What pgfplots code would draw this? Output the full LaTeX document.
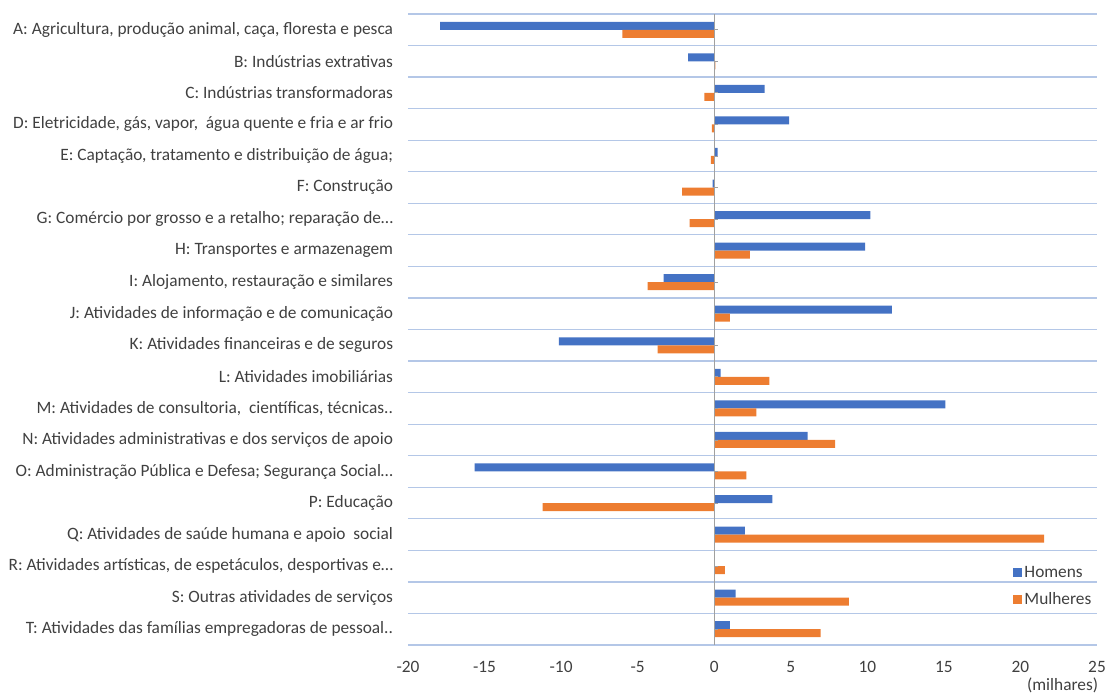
\documentclass[border=0pt]{standalone}
\usepackage{pgfplots}
\pgfplotsset{compat=1.18}
\usepackage{fontspec}
\setmainfont{Carlito}
\definecolor{cblue}{HTML}{4472C4}
\definecolor{corange}{HTML}{ED7D31}
\definecolor{gridc}{HTML}{B4C7E7}
\definecolor{txt}{HTML}{404040}
\definecolor{zline}{HTML}{A0A0A0}
\begin{document}
\begin{tikzpicture}
\begin{axis}[
  scale only axis, width=516.75pt, height=473.25pt,
  xbar, bar width=6pt,
  xmin=-20, xmax=25, xtick={-20,-15,...,25},
  ymin=-0.5, ymax=19.5, y dir=reverse,
  ytick={0,...,19},
  yticklabels={
    {A: Agricultura, produção animal, caça, floresta e pesca},
    {B: Indústrias extrativas},
    {C: Indústrias transformadoras},
    {D: Eletricidade, gás, vapor,\ \ água quente e fria e ar frio},
    {E: Captação, tratamento e distribuição de água;},
    {F: Construção},
    {G: Comércio por grosso e a retalho; reparação de…},
    {H: Transportes e armazenagem},
    {I: Alojamento, restauração e similares},
    {J: Atividades de informação e de comunicação},
    {K: Atividades financeiras e de seguros},
    {L: Atividades imobiliárias},
    {M: Atividades de consultoria,\ \ científicas, técnicas..},
    {N: Atividades administrativas e dos serviços de apoio},
    {O: Administração Pública e Defesa; Segurança Social…},
    {P: Educação},
    {Q: Atividades de saúde humana e apoio\ \ social},
    {R: Atividades artísticas, de espetáculos, desportivas e…},
    {S: Outras atividades de serviços},
    {T: Atividades das famílias empregadoras de pessoal..}},
  minor ytick={-0.5,0.5,...,19.5},
  yminorgrids,
  minor grid style={draw=gridc, line width=0.9pt},
  axis line style={draw=none},
  major tick length=0pt, minor tick length=0pt,
  tick label style={font=\fontsize{13}{15}\selectfont, text=txt},
  /pgf/number format/assume math mode=true,
  yticklabel style={xshift=-7.7pt},
  xticklabel style={yshift=-8.5pt},
  legend style={at={(0.996,0.093)}, anchor=east, draw=none, fill=none,
    font=\fontsize{13}{15}\selectfont, text=txt, row sep=7.5pt, inner sep=0pt,
    nodes={inner xsep=2pt, inner ysep=1pt}},
  legend cell align=left,
]
\addplot[fill=cblue, draw=none, bar shift=3pt,
  legend image code/.code={\fill[cblue] (0pt,-3.4pt) rectangle (6.8pt,3.4pt);}]
  coordinates {
  (-17.9,0) (-1.7,1) (3.3,2) (4.9,3) (0.22,4) (-0.1,5) (10.2,6) (9.85,7)
  (-3.3,8) (11.6,9) (-10.15,10) (0.42,11) (15.1,12) (6.1,13) (-15.65,14)
  (3.8,15) (2.0,16) (0.0,17) (1.4,18) (1.03,19)};
\addlegendentry{Homens}
\addplot[fill=corange, draw=none, bar shift=-3pt,
  legend image code/.code={\fill[corange] (0pt,-3.4pt) rectangle (6.8pt,3.4pt);}]
  coordinates {
  (-6.0,0) (0.08,1) (-0.65,2) (-0.15,3) (-0.22,4) (-2.1,5) (-1.6,6) (2.33,7)
  (-4.35,8) (1.03,9) (-3.7,10) (3.6,11) (2.76,12) (7.9,13) (2.1,14)
  (-11.2,15) (21.55,16) (0.7,17) (8.8,18) (6.95,19)};
\addlegendentry{Mulheres}
\draw[zline, line width=0.8pt] (axis cs:0,-0.5) -- (axis cs:0,19.5);
\pgfplotsinvokeforeach{0,...,19}{\draw[zline, line width=0.6pt] (axis cs:0,#1) -- ++(3pt,0pt);}
\end{axis}
\node[anchor=north east, inner sep=0pt, text=txt, font=\fontsize{13}{15}\selectfont]
  at ([xshift=1pt, yshift=-24.5pt]current axis.south east) {(milhares)};
\pgfresetboundingbox
\path ([xshift=-306pt, yshift=-36.75pt]current axis.south west) rectangle ([xshift=9pt, yshift=10.5pt]current axis.north east);
\end{tikzpicture}
\end{document}
